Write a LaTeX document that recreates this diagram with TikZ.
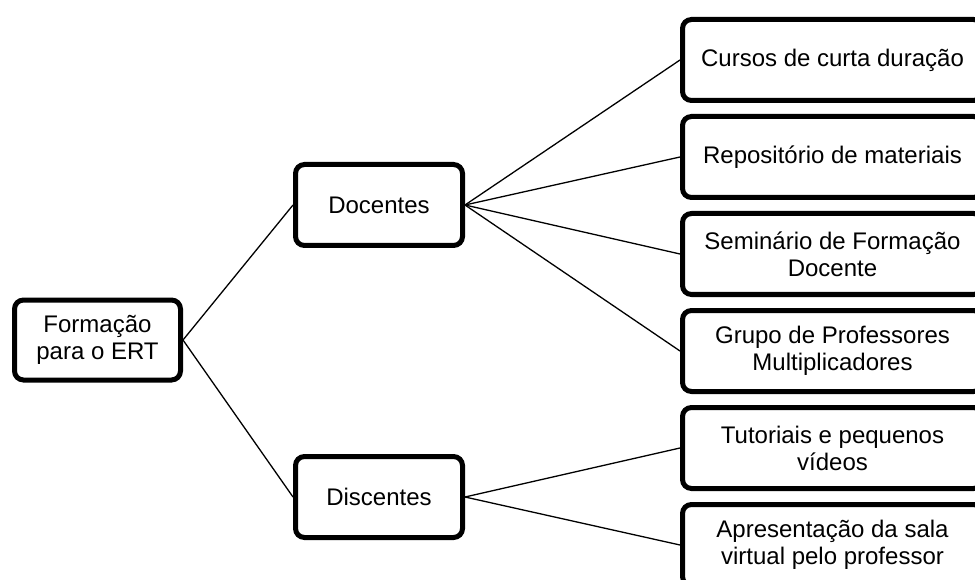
\documentclass[tikz,border=0pt]{standalone}
\usepackage{fontspec}
\setmainfont{Liberation Sans}
\begin{document}
\begin{tikzpicture}[x=1pt,y=-1pt,
  box/.style={draw=black, line width=5pt, rounded corners=9pt, fill=white,
    align=center, inner sep=0pt, font=\fontsize{24}{27}\selectfont},
  rootbox/.style={box, minimum width=166pt, minimum height=80pt},
  midbox/.style={box, minimum width=167pt, minimum height=81pt},
  leafbox/.style={box, minimum width=300pt, minimum height=81pt},
  link/.style={draw=black, line width=1.3pt}]
\useasboundingbox (0,0) rectangle (975,580);
\node[rootbox] (root) at (97.5,340) {Formação\\para o ERT};
\node[midbox] (doc) at (379,205) {Docentes};
\node[midbox] (dis) at (379,497) {Discentes};
\node[leafbox] (l1) at (832.5,60) {Cursos de curta duração};
\node[leafbox] (l2) at (832.5,157) {Repositório de materiais};
\node[leafbox] (l3) at (832.5,254) {Seminário de Formação\\Docente};
\node[leafbox] (l4) at (832.5,351) {Grupo de Professores\\Multiplicadores};
\node[leafbox] (l5) at (832.5,448) {Tutoriais e pequenos\\vídeos};
\node[leafbox] (l6) at (832.5,545) {Apresentação da sala\\virtual pelo professor};
\draw[link] (root.east) -- (doc.west);
\draw[link] (root.east) -- (dis.west);
\foreach \n in {l1,l2,l3,l4} \draw[link] (doc.east) -- (\n.west);
\foreach \n in {l5,l6} \draw[link] (dis.east) -- (\n.west);
\end{tikzpicture}
\end{document}
